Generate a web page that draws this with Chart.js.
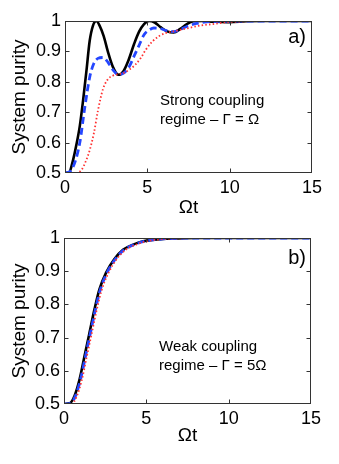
<!DOCTYPE html>
<html lang="en">
<head>
<meta charset="UTF-8">
<title>System purity</title>
<script src="https://cdn.jsdelivr.net/npm/chart.js"></script>
<style>
  body { margin: 0; background: #fff; width: 339px; height: 464px; position: relative; overflow: hidden; }
  canvas { position: absolute; left: 0; }
</style>
</head>
<body>
<canvas id="chartA" width="339" height="220" style="top:0"></canvas>
<canvas id="chartB" width="339" height="244" style="top:220px"></canvas>
<script>
// panel a) strong coupling
const tBlackA = [0, 0.25, 0.5, 0.7, 0.9, 1.1, 1.3, 1.5, 1.7, 1.9, 2.1, 2.35, 2.6, 2.9, 3.25, 3.55, 3.85, 4.2, 4.5, 4.8, 5.1, 5.45, 5.8, 6.2, 6.6, 7.0, 7.4, 7.8, 8.3, 9.0, 10, 11, 12, 15];
const pBlackA = [0.5, 0.502, 0.545, 0.595, 0.655, 0.74, 0.835, 0.935, 0.985, 1.0, 0.985, 0.95, 0.9, 0.85, 0.823, 0.835, 0.87, 0.925, 0.965, 0.99, 1.0, 0.995, 0.98, 0.966, 0.962, 0.974, 0.99, 0.999, 1.0, 0.998, 0.996, 0.999, 1.0, 1.0];
const tBlueA = [0, 0.3, 0.6, 0.9, 1.2, 1.5, 1.75, 2.0, 2.3, 2.6, 2.9, 3.25, 3.6, 3.9, 4.2, 4.5, 4.8, 5.1, 5.4, 5.8, 6.2, 6.6, 7.0, 7.4, 8.0, 8.6, 9.5, 11, 15];
const pBlueA = [0.5, 0.505, 0.535, 0.6, 0.715, 0.815, 0.86, 0.877, 0.88, 0.865, 0.84, 0.824, 0.83, 0.85, 0.885, 0.92, 0.955, 0.97, 0.977, 0.975, 0.968, 0.965, 0.972, 0.982, 0.992, 0.997, 0.999, 1.0, 1.0];
const tRedA = [0, 0.7, 1.0, 1.25, 1.5, 1.75, 2.0, 2.3, 2.6, 2.9, 3.25, 3.6, 3.9, 4.25, 4.6, 4.9, 5.3, 5.7, 6.1, 6.6, 7.1, 7.6, 8.2, 9.0, 9.8, 10.5, 11.5, 15];
const pRedA = [0.5, 0.5, 0.51, 0.537, 0.575, 0.63, 0.705, 0.775, 0.808, 0.82, 0.825, 0.83, 0.84, 0.855, 0.878, 0.905, 0.932, 0.95, 0.96, 0.966, 0.972, 0.978, 0.985, 0.99, 0.996, 0.998, 1.0, 1.0];

// panel b) weak coupling
const tBlackB = [0, 0.35, 0.65, 0.95, 1.25, 1.55, 1.85, 2.15, 2.55, 3.05, 3.6, 4.2, 4.8, 5.5, 6.2, 7, 8, 15];
const pBlackB = [0.5, 0.502, 0.526, 0.575, 0.645, 0.715, 0.785, 0.845, 0.895, 0.936, 0.965, 0.98, 0.99, 0.995, 0.998, 0.999, 1.0, 1.0];
const tBlueB = [0, 0.4, 0.71, 1.01, 1.31, 1.61, 1.91, 2.21, 2.61, 3.11, 3.66, 4.26, 4.86, 5.56, 6.26, 7.06, 8.06, 15];
const pBlueB = [0.5, 0.502, 0.526, 0.575, 0.645, 0.715, 0.785, 0.845, 0.895, 0.936, 0.965, 0.98, 0.99, 0.995, 0.998, 0.999, 1.0, 1.0];
const tRedB = [0, 0.45, 0.78, 1.08, 1.38, 1.68, 1.98, 2.28, 2.68, 3.18, 3.73, 4.33, 4.93, 5.63, 6.33, 7.13, 8.13, 15];
const pRedB = [0.5, 0.5, 0.524, 0.572, 0.642, 0.712, 0.782, 0.842, 0.893, 0.935, 0.964, 0.979, 0.989, 0.995, 0.998, 0.999, 1.0, 1.0];

const xTicks = [0, 5, 10, 15];
const yTicks = [0.5, 0.6, 0.7, 0.8, 0.9, 1];
const notesA = ['Strong coupling', 'regime \u2013 \u0393 = \u03A9'];
const notesB = ['Weak coupling', 'regime \u2013 \u0393 = 5\u03A9'];

const FONT = '"Liberation Sans", Arial, Helvetica, sans-serif';

function pts(ts, ps) {
  return ts.map((t, i) => ({ x: t, y: ps[i] }));
}

// box + inward ticks + text labels, matlab style
const framePlugin = {
  id: 'frame',
  afterDraw(chart, args, opts) {
    const ctx = chart.ctx;
    const a = chart.chartArea;
    const xs = chart.scales.x, ys = chart.scales.y;
    const L = Math.round(a.left) + 0.5, R = Math.round(a.right) - 0.5;
    const T = Math.round(a.top) + 0.5, B = Math.round(a.bottom) - 0.5;
    ctx.save();
    ctx.strokeStyle = '#333';
    ctx.lineWidth = 1;
    ctx.strokeRect(L, T, R - L, B - T);
    ctx.beginPath();
    xTicks.slice(1, -1).forEach(v => {
      const px = Math.round(xs.getPixelForValue(v)) + 0.5;
      ctx.moveTo(px, B); ctx.lineTo(px, B - 4);
      ctx.moveTo(px, T); ctx.lineTo(px, T + 4);
    });
    yTicks.slice(1, -1).forEach(v => {
      const py = Math.round(ys.getPixelForValue(v)) + 0.5;
      ctx.moveTo(L, py); ctx.lineTo(L + 4, py);
      ctx.moveTo(R, py); ctx.lineTo(R - 4, py);
    });
    ctx.stroke();

    ctx.fillStyle = '#000';
    ctx.textBaseline = 'alphabetic';
    ctx.font = '15px ' + FONT;
    ctx.textAlign = 'left';
    opts.notes.forEach((s, i) => {
      ctx.fillText(s, opts.noteX, opts.noteY + i * opts.noteGap);
    });
    ctx.font = '20px ' + FONT;
    ctx.textAlign = 'right';
    ctx.fillText(opts.tag, opts.tagX, opts.tagY);
    ctx.restore();
  }
};

function makeChart(id, sets, cfg) {
  return new Chart(document.getElementById(id), {
    type: 'line',
    data: {
      datasets: [
        { data: pts(sets[0][0], sets[0][1]), borderColor: '#000', borderWidth: 2.6, order: 2 },
        { data: pts(sets[1][0], sets[1][1]), borderColor: '#2446ff', borderWidth: 2.8, borderDash: [7, 4], order: 1 },
        { data: pts(sets[2][0], sets[2][1]), borderColor: '#ff3030', borderWidth: 1.8, borderDash: [1.5, 2.2], order: 0 }
      ]
    },
    options: {
      responsive: false,
      devicePixelRatio: 1,
      animation: false,
      events: [],
      layout: { padding: cfg.padding },
      elements: {
        point: { radius: 0 },
        line: { cubicInterpolationMode: 'monotone', fill: false }
      },
      plugins: {
        legend: { display: false },
        tooltip: { enabled: false },
        frame: cfg.frame
      },
      scales: {
        x: {
          type: 'linear', min: 0, max: 15,
          grid: { display: false, drawTicks: false },
          border: { display: false },
          afterBuildTicks: s => { s.ticks = xTicks.map(v => ({ value: v })); },
          afterFit: s => { s.height = cfg.xH; s.paddingLeft = 0; s.paddingRight = 0; },
          ticks: { padding: 4, color: '#000', font: { family: FONT, size: 18 }, maxRotation: 0 },
          title: { display: true, text: '\u03A9t', color: '#000', padding: 0, font: { family: FONT, size: 19 } }
        },
        y: {
          type: 'linear', min: 0.5, max: 1,
          grid: { display: false, drawTicks: false },
          border: { display: false },
          afterBuildTicks: s => { s.ticks = yTicks.map(v => ({ value: v })); },
          afterFit: s => { s.width = cfg.yW; s.paddingTop = 0; s.paddingBottom = 0; },
          ticks: { padding: 4, color: '#000', font: { family: FONT, size: 18 }, callback: v => String(+v.toFixed(1)) },
          title: { display: true, text: 'System purity', color: '#000', padding: { top: 8, bottom: 0 }, font: { family: FONT, size: 19 } }
        }
      }
    },
    plugins: [framePlugin]
  });
}

makeChart('chartA', [[tBlackA, pBlackA], [tBlueA, pBlueA], [tRedA, pRedA]], {
  padding: { top: 21, right: 27, bottom: 1, left: 0 },
  xH: 46, yW: 65,
  frame: { notes: notesA, noteX: 160, noteY: 105, noteGap: 19, tag: 'a)', tagX: 306, tagY: 43 }
});

makeChart('chartB', [[tBlackB, pBlackB], [tBlueB, pBlueB], [tRedB, pRedB]], {
  padding: { top: 18, right: 28, bottom: 17, left: 0 },
  xH: 43, yW: 64,
  frame: { notes: notesB, noteX: 159, noteY: 131, noteGap: 19, tag: 'b)', tagX: 306, tagY: 44 }
});
</script>
</body>
</html>
